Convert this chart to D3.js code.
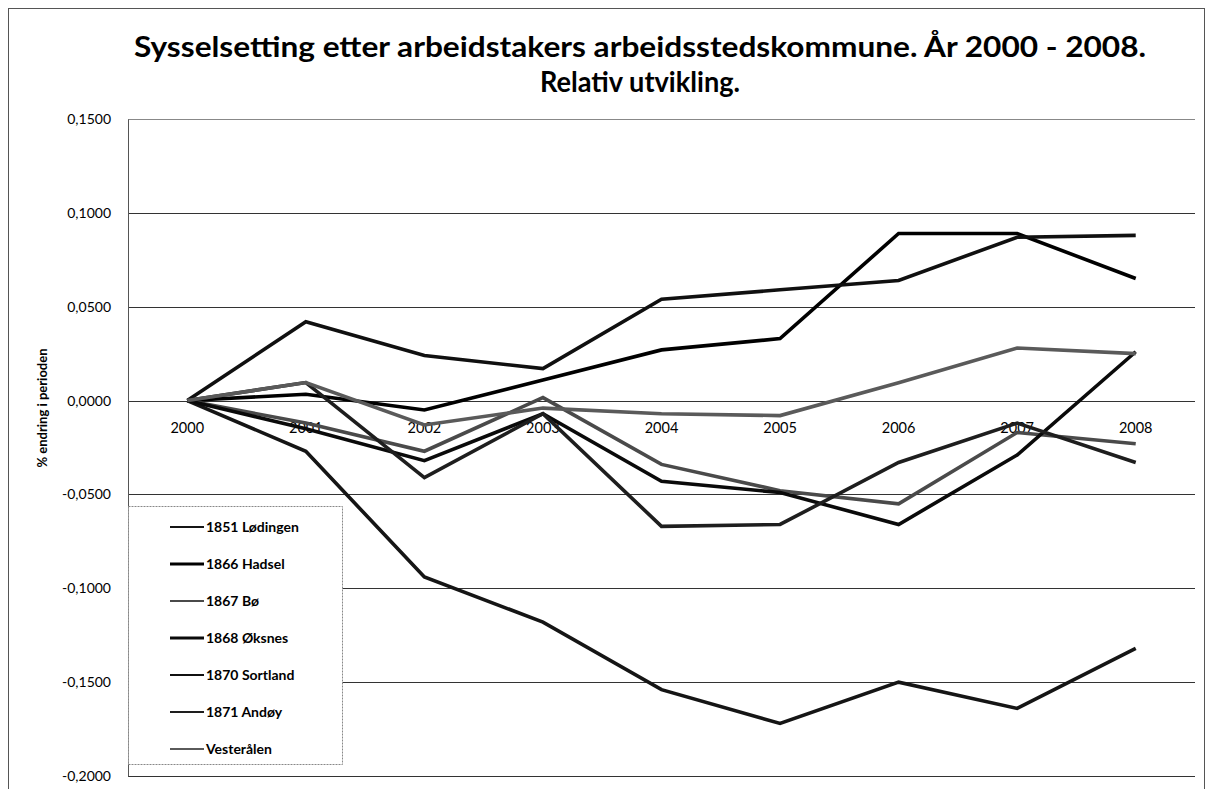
<!DOCTYPE html>
<html lang="nb">
<head>
  <meta charset="UTF-8">
  <title>Sysselsetting etter arbeidstakers arbeidsstedskommune</title>
  <script src="https://d3js.org/d3.v7.min.js"></script>
  <style>
    body { margin: 0; background: #fff; }
    svg { display: block; }
    text { font-family: Lato, "Open Sans", sans-serif; fill: #000; }
  </style>
</head>
<body>
  <svg id="chart" width="1211" height="789"></svg>

  <script>
    // Data lest av figuren
    const years = [2000, 2001, 2002, 2003, 2004, 2005, 2006, 2007, 2008];
    const seriesNames = ['1851 Lødingen', '1866 Hadsel', '1867 Bø', '1868 Øksnes', '1870 Sortland', '1871 Andøy', 'Vesterålen'];
    const lodingen   = [0, -0.027, -0.094, -0.118, -0.154, -0.172, -0.150, -0.164, -0.132];
    const hadsel     = [0, 0.0034, -0.005, 0.011, 0.027, 0.033, 0.089, 0.089, 0.065];
    const bo         = [0, -0.012, -0.027, 0.0016, -0.034, -0.048, -0.055, -0.017, -0.023];
    const oksnes     = [0, -0.015, -0.032, -0.007, -0.043, -0.049, -0.066, -0.029, 0.026];
    const sortland   = [0, 0.042, 0.024, 0.017, 0.054, 0.059, 0.064, 0.087, 0.088];
    const andoy      = [0, 0.0096, -0.041, -0.007, -0.067, -0.066, -0.033, -0.012, -0.033];
    const vesteralen = [0, 0.0096, -0.013, -0.004, -0.007, -0.008, 0.0095, 0.028, 0.025];
    const yTicks = [-0.2, -0.15, -0.1, -0.05, 0, 0.05, 0.1, 0.15];

    const seriesValues = [lodingen, hadsel, bo, oksnes, sortland, andoy, vesteralen];
    const colors = ['#151515', '#000000', '#4a4a4a', '#0a0a0a', '#101010', '#1e1e1e', '#5a5a5a'];

    const svg = d3.select('#chart');
    const plot = { left: 128, right: 1195, top: 119, bottom: 776 };

    const x = d3.scalePoint()
      .domain(years)
      .range([plot.left, plot.right])
      .padding(0.5);
    const y = d3.scaleLinear()
      .domain([-0.2, 0.15])
      .range([plot.bottom, plot.top]);

    const nb = d3.formatLocale({ decimal: ',', thousands: ' ', grouping: [3], currency: ['', ' kr'], minus: '-' });
    const fmt = nb.format('.4f');

    // Ytre ramme
    svg.append('rect')
      .attr('x', 8.5).attr('y', 8.5)
      .attr('width', 1196).attr('height', 800)
      .attr('fill', 'none')
      .attr('stroke', '#555')
      .attr('stroke-width', 1);

    // Tittel
    svg.append('text')
      .attr('x', 640).attr('y', 57)
      .attr('text-anchor', 'middle')
      .attr('font-size', 28)
      .attr('font-weight', 700)
      .attr('textLength', 1012)
      .attr('lengthAdjust', 'spacingAndGlyphs')
      .text('Sysselsetting etter arbeidstakers  arbeidsstedskommune. År 2000 - 2008.');
    svg.append('text')
      .attr('x', 640).attr('y', 92)
      .attr('text-anchor', 'middle')
      .attr('font-size', 28)
      .attr('font-weight', 700)
      .attr('textLength', 200)
      .attr('lengthAdjust', 'spacingAndGlyphs')
      .text('Relativ utvikling.');

    // Rutenett
    svg.append('g')
      .selectAll('line')
      .data(yTicks)
      .join('line')
      .attr('x1', plot.left).attr('x2', plot.right)
      .attr('y1', d => Math.round(y(d)) + 0.5)
      .attr('y2', d => Math.round(y(d)) + 0.5)
      .attr('stroke', d => d === 0.15 ? '#888' : '#333')
      .attr('stroke-width', 1);

    // Y-akse
    const yAxis = svg.append('g')
      .attr('transform', `translate(${plot.left}, 0)`)
      .call(d3.axisLeft(y).tickValues(yTicks).tickFormat(fmt).tickSize(0).tickPadding(17));
    yAxis.select('.domain').attr('stroke', '#555');
    yAxis.selectAll('text')
      .attr('font-family', 'Lato, sans-serif')
      .attr('font-size', 14)
      .attr('fill', '#000');

    svg.append('text')
      .attr('transform', 'translate(47, 408) rotate(-90)')
      .attr('text-anchor', 'middle')
      .attr('font-size', 13)
      .attr('font-weight', 700)
      .text('% endring i perioden');

    // Årstall langs nullinjen
    svg.append('g')
      .selectAll('text')
      .data(years)
      .join('text')
      .attr('x', d => x(d))
      .attr('y', y(0) + 32)
      .attr('text-anchor', 'middle')
      .attr('font-size', 14.5)
      .text(d => d);

    // Linjer
    const line = d3.line()
      .x((d, i) => x(years[i]))
      .y(d => y(d));

    svg.append('g')
      .selectAll('path')
      .data(seriesValues)
      .join('path')
      .attr('d', d => line(d))
      .attr('fill', 'none')
      .attr('stroke', (d, i) => colors[i])
      .attr('stroke-width', 3.6)
      .attr('stroke-linejoin', 'miter');

    // Tegnforklaring
    const legend = svg.append('g');
    legend.append('rect')
      .attr('x', 128.5).attr('y', 506.5)
      .attr('width', 214).attr('height', 258)
      .attr('fill', '#fff')
      .attr('stroke', '#888')
      .attr('stroke-dasharray', '2,1');

    const items = legend.selectAll('g.item')
      .data(seriesNames)
      .join('g')
      .attr('class', 'item')
      .attr('transform', (d, i) => `translate(0, ${527 + i * 37})`);
    items.append('line')
      .attr('x1', 170).attr('x2', 204)
      .attr('stroke', (d, i) => colors[i])
      .attr('stroke-width', (d, i) => i === 1 || i === 3 ? 3 : 2.2);
    items.append('text')
      .attr('x', 206).attr('y', 5)
      .attr('font-size', 14)
      .attr('font-weight', 700)
      .text(d => d);
  </script>
</body>
</html>
